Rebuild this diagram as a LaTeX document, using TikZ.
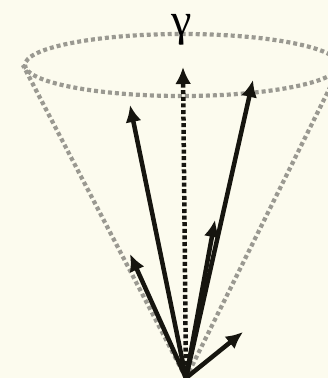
\documentclass[tikz,border=0pt]{standalone}
\usepackage{fontspec}
\newfontfamily\greekfont{Liberation Serif}
\usepackage{xcolor}
\usepackage{tikz}
\usetikzlibrary{shapes.geometric, arrows.meta, positioning}

\definecolor{paper}{HTML}{FCFBEE}
\definecolor{ink}{HTML}{16150F}
\definecolor{haze}{HTML}{9A9991}

\begin{document}
\begin{tikzpicture}[x=1pt, y=-1pt]
\tikzstyle{rim} = [draw=haze, line width=4.2pt, dash pattern=on 4pt off 3pt]
\tikzstyle{ray} = [draw=ink, line width=4.5pt, -{Latex[length=17pt, width=16pt]}]
\tikzstyle{axis} = [ray, dash pattern=on 4pt off 2.6pt]

\fill [paper] (0,0) rectangle (328,378);
\useasboundingbox (0,0) rectangle (328,378);

\node [ellipse, rim, minimum width=314pt, minimum height=62pt, inner sep=0pt] (cone) at (182,65) {};
\node [inner sep=0pt, font=\greekfont\fontsize{46}{46}\selectfont] (gamma) at (182,30) {γ};

\coordinate (apex) at (186,378);
\coordinate (t1) at (130,254);
\coordinate (t2) at (130,105);
\coordinate (t3) at (183,67);
\coordinate (t4) at (253,80);
\coordinate (t5) at (215,220);
\coordinate (t6) at (243,332);

\path [rim] (apex) -- (cone.west);
\path [rim] (apex) -- (cone.east);

\path [axis] (apex) -- (t3);
\path [ray] (apex) -- (t1);
\path [ray] (apex) -- (t2);
\path [ray] (apex) -- (t4);
\path [ray] (apex) -- (t5);
\path [ray] (apex) -- (t6);

\end{tikzpicture}
\end{document}
